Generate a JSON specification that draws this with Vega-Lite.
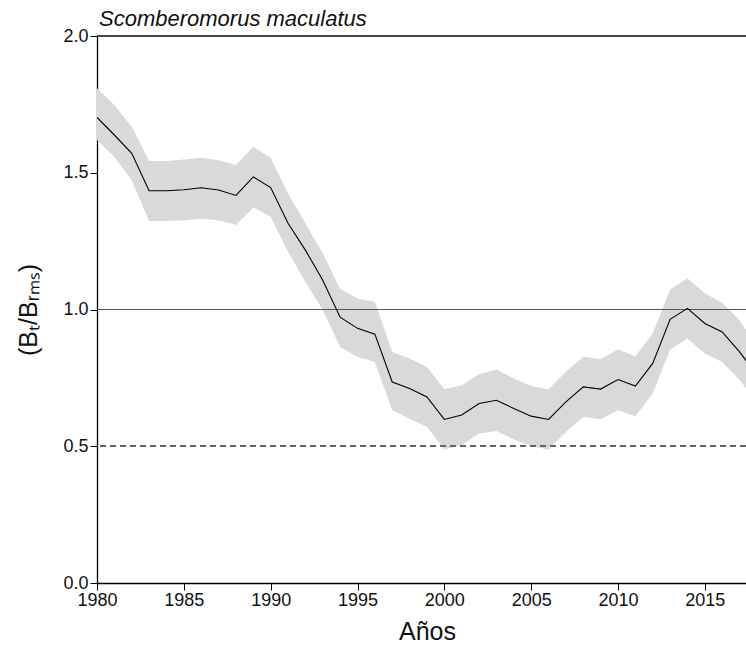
{
  "$schema": "https://vega.github.io/schema/vega-lite/v6.json",
  "width": 649,
  "height": 547,
  "autosize": {"type": "none"},
  "padding": {"left": 97, "top": 36, "right": 0, "bottom": 64},
  "background": "white",
  "title": {
    "text": "Scomberomorus maculatus",
    "anchor": "start",
    "frame": "group",
    "font": "Liberation Sans",
    "fontSize": 22,
    "fontStyle": "italic",
    "fontWeight": "normal",
    "color": "#111111",
    "offset": -4,
    "dx": 2
  },
  "config": {
    "view": {"stroke": null},
    "axis": {
      "grid": false,
      "domainColor": "#000000",
      "domainWidth": 1.3,
      "tickColor": "#000000",
      "tickSize": 7,
      "tickWidth": 1,
      "labelFlush": false,
      "labelOverlap": false,
      "labelFont": "Liberation Sans",
      "labelFontSize": 18,
      "labelColor": "#111111",
      "titleFont": "Liberation Sans",
      "titleFontSize": 25,
      "titleFontWeight": "normal",
      "titleColor": "#111111"
    }
  },
  "data": {
    "values": [
      {"year": 1980, "b": 1.702, "lo": 1.620, "hi": 1.809},
      {"year": 1981, "b": 1.638, "lo": 1.558, "hi": 1.748},
      {"year": 1982, "b": 1.571, "lo": 1.473, "hi": 1.668},
      {"year": 1983, "b": 1.434, "lo": 1.324, "hi": 1.543},
      {"year": 1984, "b": 1.434, "lo": 1.324, "hi": 1.543},
      {"year": 1985, "b": 1.438, "lo": 1.326, "hi": 1.548},
      {"year": 1986, "b": 1.445, "lo": 1.332, "hi": 1.555},
      {"year": 1987, "b": 1.437, "lo": 1.326, "hi": 1.546},
      {"year": 1988, "b": 1.417, "lo": 1.309, "hi": 1.528},
      {"year": 1989, "b": 1.485, "lo": 1.373, "hi": 1.595},
      {"year": 1990, "b": 1.446, "lo": 1.339, "hi": 1.555},
      {"year": 1991, "b": 1.315, "lo": 1.211, "hi": 1.424},
      {"year": 1992, "b": 1.217, "lo": 1.101, "hi": 1.315},
      {"year": 1993, "b": 1.107, "lo": 0.998, "hi": 1.205},
      {"year": 1994, "b": 0.972, "lo": 0.863, "hi": 1.075},
      {"year": 1995, "b": 0.931, "lo": 0.827, "hi": 1.040},
      {"year": 1996, "b": 0.910, "lo": 0.808, "hi": 1.028},
      {"year": 1997, "b": 0.735, "lo": 0.632, "hi": 0.845},
      {"year": 1998, "b": 0.711, "lo": 0.601, "hi": 0.821},
      {"year": 1999, "b": 0.680, "lo": 0.571, "hi": 0.790},
      {"year": 2000, "b": 0.598, "lo": 0.488, "hi": 0.708},
      {"year": 2001, "b": 0.614, "lo": 0.504, "hi": 0.723},
      {"year": 2002, "b": 0.656, "lo": 0.547, "hi": 0.763},
      {"year": 2003, "b": 0.668, "lo": 0.556, "hi": 0.781},
      {"year": 2004, "b": 0.638, "lo": 0.525, "hi": 0.748},
      {"year": 2005, "b": 0.610, "lo": 0.500, "hi": 0.720},
      {"year": 2006, "b": 0.598, "lo": 0.488, "hi": 0.708},
      {"year": 2007, "b": 0.662, "lo": 0.552, "hi": 0.772},
      {"year": 2008, "b": 0.717, "lo": 0.607, "hi": 0.827},
      {"year": 2009, "b": 0.709, "lo": 0.599, "hi": 0.818},
      {"year": 2010, "b": 0.744, "lo": 0.632, "hi": 0.854},
      {"year": 2011, "b": 0.720, "lo": 0.610, "hi": 0.829},
      {"year": 2012, "b": 0.803, "lo": 0.693, "hi": 0.912},
      {"year": 2013, "b": 0.964, "lo": 0.854, "hi": 1.073},
      {"year": 2014, "b": 1.004, "lo": 0.894, "hi": 1.114},
      {"year": 2015, "b": 0.949, "lo": 0.839, "hi": 1.059},
      {"year": 2016, "b": 0.918, "lo": 0.808, "hi": 1.024},
      {"year": 2017, "b": 0.845, "lo": 0.742, "hi": 0.961},
      {"year": 2018, "b": 0.760, "lo": 0.660, "hi": 0.870}
    ]
  },
  "layer": [
    {
      "mark": {"type": "area", "color": "#d9d9d9", "clip": true},
      "encoding": {
        "x": {
          "field": "year",
          "type": "quantitative",
          "scale": {"domain": [1980, 2017.37], "nice": false, "zero": false},
          "axis": {
            "values": [1980, 1985, 1990, 1995, 2000, 2005, 2010, 2015],
            "format": "d",
            "title": "Años",
            "titleX": 330,
            "titlePadding": 10,
            "labelPadding": 1
          }
        },
        "y": {
          "field": "lo",
          "type": "quantitative",
          "scale": {"domain": [0, 2], "nice": false},
          "axis": {
            "values": [0, 0.5, 1, 1.5, 2],
            "format": ".1f",
            "title": "(Bₜ/Bᵣₘₛ)",
            "titlePadding": 21,
            "labelPadding": 2
          }
        },
        "y2": {"field": "hi"}
      }
    },
    {
      "mark": {"type": "rule", "color": "#555555", "strokeWidth": 1},
      "encoding": {"y": {"datum": 1}}
    },
    {
      "mark": {"type": "rule", "color": "#666666", "strokeWidth": 1, "strokeDash": [6, 4]},
      "encoding": {"y": {"datum": 0.5}}
    },
    {
      "mark": {"type": "rule", "color": "#444444", "strokeWidth": 1.3},
      "encoding": {"y": {"datum": 2}}
    },
    {
      "mark": {"type": "line", "color": "#000000", "strokeWidth": 1.1, "clip": true},
      "encoding": {
        "x": {"field": "year", "type": "quantitative"},
        "y": {"field": "b", "type": "quantitative"}
      }
    }
  ]
}
